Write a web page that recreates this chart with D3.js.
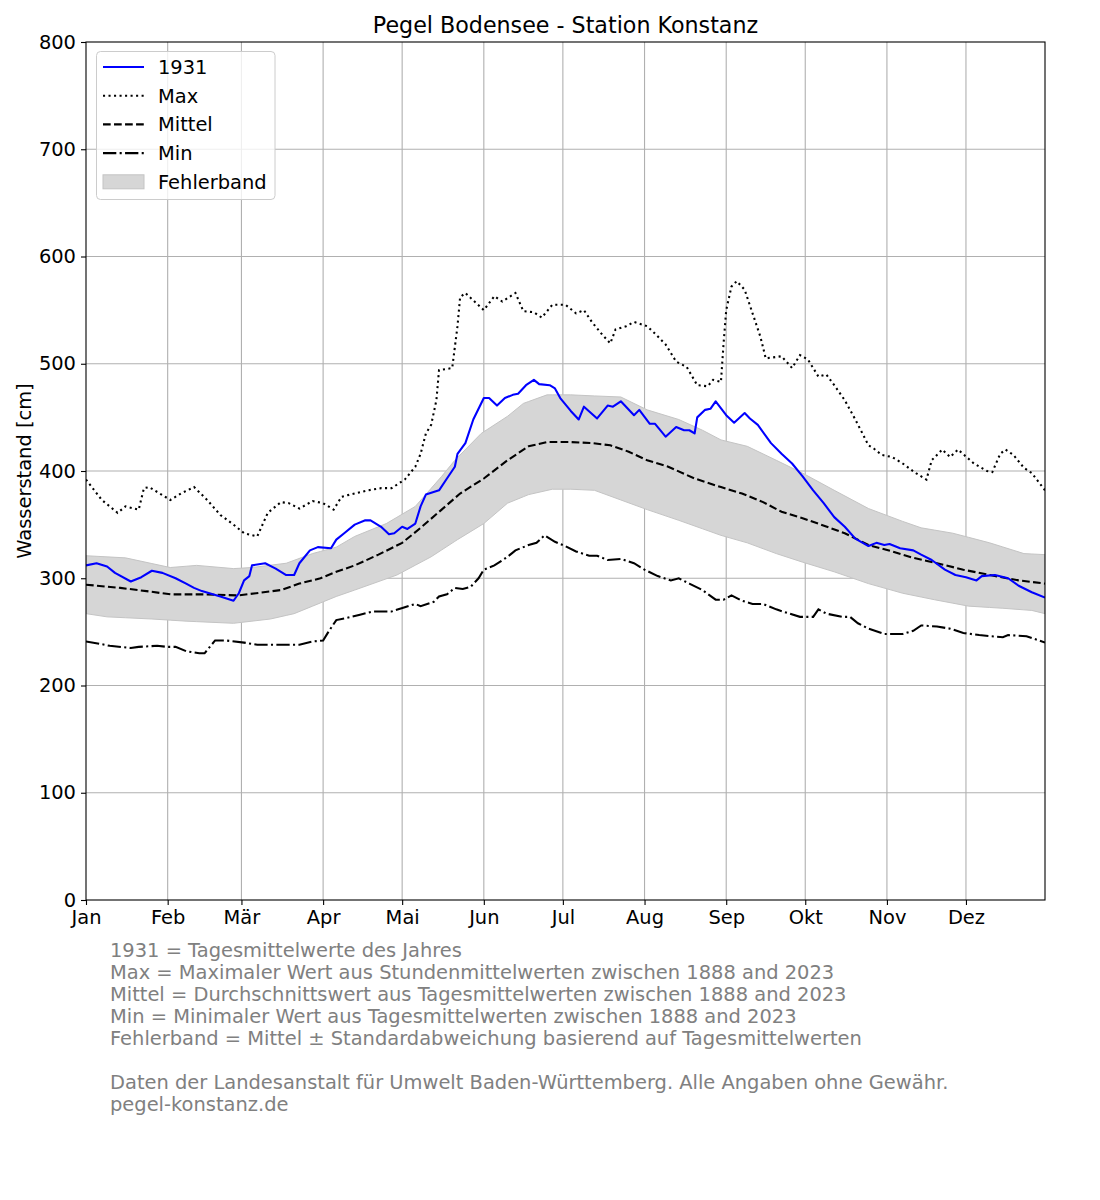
<!DOCTYPE html>
<html>
<head>
<meta charset="utf-8">
<script src="https://cdn.jsdelivr.net/npm/d3@7"></script>
<style>
  html, body { margin: 0; padding: 0; background: #fff; }
  svg { display: block; }
  text { font-family: "DejaVu Sans", sans-serif; }
</style>
</head>
<body>
<script>
// ---------- data (day of year, water level in cm) ----------
const monthNames = ["Jan","Feb","Mär","Apr","Mai","Jun","Jul","Aug","Sep","Okt","Nov","Dez"];
const monthStartDays = [0,31,59,90,120,151,181,212,243,273,304,334];
const yTicks = [0,100,200,300,400,500,600,700,800];

const series1931 = [[0,312],[4,314],[8,311],[11,305],[17,297],[21,301],[25,307],[29,305],[34,300],[38,295],[41,291],[44,288],[51,283],[56,279],[58,286],[60,298],[62,302],[63,312],[68,314],[72,309],[76,303],[79,303],[81,314],[85,326],[88,329],[93,328],[95,336],[98,342],[102,350],[106,354],[108,354],[112,348],[115,341],[117,342],[120,348],[122,346],[125,351],[127,367],[129,378],[134,382],[137,393],[140,404],[141,416],[144,426],[147,448],[151,468],[153,468],[156,461],[159,468],[162,471],[164,472],[167,480],[170,485],[172,481],[176,480],[178,477],[180,468],[184,456],[187,448],[189,460],[194,449],[198,461],[200,460],[203,465],[208,452],[210,457],[214,444],[216,444],[220,432],[224,441],[227,438],[229,438],[231,435],[232,450],[235,457],[237,458],[239,465],[243,452],[246,445],[250,454],[252,449],[255,443],[260,426],[264,416],[268,407],[272,395],[276,382],[280,370],[284,357],[288,348],[292,337],[297,330],[300,333],[303,331],[305,332],[309,328],[314,326],[317,322],[321,317],[326,308],[330,303],[334,301],[338,298],[340,302],[345,303],[350,300],[354,293],[359,287],[364,282]];

const seriesMax = [[0,392],[6,373],[12,361],[15,367],[20,364],[22,384],[24,385],[32,373],[36,379],[41,385],[46,373],[51,359],[56,350],[60,342],[65,339],[69,361],[74,371],[77,370],[81,365],[86,372],[90,370],[94,364],[97,376],[102,379],[107,382],[112,384],[116,384],[121,392],[125,404],[127,416],[129,435],[131,443],[133,466],[134,494],[139,496],[141,535],[142,562],[144,566],[151,550],[155,563],[158,558],[163,566],[166,549],[170,548],[173,543],[177,555],[182,555],[186,547],[189,550],[192,539],[196,527],[199,519],[201,532],[205,535],[208,539],[213,535],[216,528],[220,518],[224,502],[228,497],[232,480],[236,479],[238,485],[241,483],[242,519],[243,550],[245,572],[247,577],[250,569],[253,547],[256,525],[258,505],[264,507],[268,496],[271,508],[274,504],[278,488],[281,490],[284,480],[288,466],[292,448],[297,424],[299,421],[302,415],[306,413],[310,407],[315,398],[319,392],[321,410],[325,420],[328,413],[331,420],[337,407],[342,400],[344,399],[347,416],[349,420],[352,415],[356,403],[359,398],[364,382]];

const seriesMittel = [[0,294],[13,291],[23,288],[32,285],[44,285],[58,284],[74,289],[81,295],[89,300],[95,306],[102,312],[111,322],[120,333],[127,347],[135,364],[142,379],[151,393],[160,410],[168,423],[175,427],[184,427],[192,426],[199,424],[206,418],[213,410],[221,404],[231,393],[241,385],[249,379],[257,371],[264,362],[272,356],[279,350],[288,342],[297,331],[306,325],[314,319],[323,314],[333,308],[343,303],[354,298],[364,295]];

const seriesMin = [[0,241],[5,239],[9,237],[17,235],[20,236],[27,237],[31,236],[34,236],[38,232],[43,230],[45,230],[47,236],[49,242],[53,242],[60,240],[65,238],[74,238],[81,238],[86,241],[90,242],[92,250],[95,261],[99,263],[104,266],[109,269],[116,269],[121,273],[125,276],[127,274],[132,278],[134,283],[137,285],[140,291],[143,290],[146,292],[149,300],[151,308],[155,312],[160,320],[163,326],[168,331],[171,333],[174,340],[178,334],[181,331],[186,325],[191,321],[194,321],[198,317],[203,318],[208,314],[212,308],[217,302],[222,298],[225,300],[229,295],[234,289],[239,280],[242,280],[245,284],[249,279],[253,276],[257,276],[262,271],[267,267],[271,264],[276,264],[278,271],[281,267],[287,264],[290,264],[293,258],[297,253],[303,248],[310,248],[314,251],[317,256],[323,255],[328,253],[333,249],[339,247],[343,246],[348,245],[350,247],[357,246],[364,240]];

const bandUpper = [[0,321],[15,319],[32,310],[42,312],[56,309],[63,310],[76,314],[86,323],[95,329],[102,339],[114,351],[125,367],[135,395],[140,410],[150,435],[160,451],[166,463],[175,471],[184,471],[193,470],[203,469],[213,457],[225,448],[234,438],[241,429],[251,423],[262,410],[272,398],[284,382],[297,365],[310,353],[317,347],[329,342],[343,333],[356,323],[364,322]];

const bandLower = [[0,267],[8,264],[25,262],[38,260],[56,258],[70,262],[79,267],[89,277],[95,283],[102,289],[118,303],[131,320],[141,336],[151,351],[160,370],[168,378],[177,383],[184,383],[193,382],[203,373],[213,364],[225,354],[241,340],[251,333],[262,323],[272,315],[284,306],[297,295],[310,286],[322,280],[335,274],[348,272],[359,270],[364,267]];

const footnotes = [
  "1931 = Tagesmittelwerte des Jahres",
  "Max = Maximaler Wert aus Stundenmittelwerten zwischen 1888 and 2023",
  "Mittel = Durchschnittswert aus Tagesmittelwerten zwischen 1888 and 2023",
  "Min = Minimaler Wert aus Tagesmittelwerten zwischen 1888 and 2023",
  "Fehlerband = Mittel ± Standardabweichung basierend auf Tagesmittelwerten",
  "",
  "Daten der Landesanstalt für Umwelt Baden-Württemberg. Alle Angaben ohne Gewähr.",
  "pegel-konstanz.de"
];

// ---------- layout ----------
const W = 1100, H = 1200;
const L = 86, R = 1045, T = 42, B = 900;
const FS = 19.44, TITLE_FS = 22.2;
const lw = 2.08;
const dotted = [lw * 1, lw * 1.65].join(",");
const dashed = [lw * 3.7, lw * 1.6].join(",");
const dashdot = [lw * 6.4, lw * 1.6, lw * 1, lw * 1.6].join(",");

const svg = d3.select("body").append("svg").attr("width", W).attr("height", H);
svg.append("rect").attr("width", W).attr("height", H).attr("fill", "#fff");

const x = d3.scaleLinear().domain([0, 364]).range([L, R]);
const y = d3.scaleLinear().domain([0, 800]).range([B, T]);

// grid
const grid = svg.append("g");
grid.selectAll(".gx").data(monthStartDays.slice(1)).join("line")
  .attr("x1", d => x(d)).attr("x2", d => x(d)).attr("y1", T).attr("y2", B)
  .attr("stroke", "#b0b0b0").attr("stroke-width", 1.1);
grid.selectAll(".gy").data(yTicks.slice(1, -1)).join("line")
  .attr("x1", L).attr("x2", R).attr("y1", d => y(d)).attr("y2", d => y(d))
  .attr("stroke", "#b0b0b0").attr("stroke-width", 1.1);

svg.append("clipPath").attr("id", "clip").append("rect")
  .attr("x", L).attr("y", T).attr("width", R - L).attr("height", B - T);
const plot = svg.append("g").attr("clip-path", "url(#clip)");

// band
const lowerFn = d3.scaleLinear().domain(bandLower.map(d => d[0])).range(bandLower.map(d => d[1]));
const upperFn = d3.scaleLinear().domain(bandUpper.map(d => d[0])).range(bandUpper.map(d => d[1]));
const bandDays = Array.from(new Set(bandUpper.map(d => d[0]).concat(bandLower.map(d => d[0])))).sort((a, b) => a - b);
const area = d3.area().x(d => x(d)).y0(d => y(lowerFn(d))).y1(d => y(upperFn(d)));
plot.append("path").datum(bandDays).attr("d", area)
  .attr("fill", "#d6d6d6").attr("stroke", "#c4c4c4").attr("stroke-width", 1);

const line = d3.line().x(d => x(d[0])).y(d => y(d[1]));
plot.append("path").datum(seriesMin).attr("d", line).attr("fill", "none")
  .attr("stroke", "#000").attr("stroke-width", lw).attr("stroke-dasharray", dashdot);
plot.append("path").datum(seriesMittel).attr("d", line).attr("fill", "none")
  .attr("stroke", "#000").attr("stroke-width", lw).attr("stroke-dasharray", dashed);
plot.append("path").datum(seriesMax).attr("d", line).attr("fill", "none")
  .attr("stroke", "#000").attr("stroke-width", lw).attr("stroke-dasharray", dotted);
plot.append("path").datum(series1931).attr("d", line).attr("fill", "none")
  .attr("stroke", "#0000ff").attr("stroke-width", lw).attr("stroke-linejoin", "round");

// axes
const xAxis = d3.axisBottom(x).tickValues(monthStartDays).tickFormat((d, i) => monthNames[i]).tickSizeOuter(0).tickSize(5).tickPadding(5);
const gx = svg.append("g").attr("transform", `translate(0,${B})`).call(xAxis);
const yAxis = d3.axisLeft(y).tickValues(yTicks).tickSizeOuter(0).tickSize(5).tickPadding(5);
const gy = svg.append("g").attr("transform", `translate(${L},0)`).call(yAxis);
[gx, gy].forEach(g => {
  g.select(".domain").remove();
  g.selectAll("line").attr("stroke", "#000").attr("stroke-width", 1.1);
  g.selectAll("text").attr("font-family", "DejaVu Sans").attr("font-size", FS).attr("fill", "#000");
});
svg.append("rect").attr("x", L).attr("y", T).attr("width", R - L).attr("height", B - T)
  .attr("fill", "none").attr("stroke", "#000").attr("stroke-width", 1.1);

// title & axis label
svg.append("text").attr("x", (L + R) / 2).attr("y", 33).attr("text-anchor", "middle")
  .attr("font-size", TITLE_FS).text("Pegel Bodensee - Station Konstanz");
svg.append("text").attr("transform", `translate(31,${(T + B) / 2}) rotate(-90)`)
  .attr("text-anchor", "middle").attr("font-size", FS).text("Wasserstand [cm]");

// legend
const lg = svg.append("g");
lg.append("rect").attr("x", 96.5).attr("y", 51.5).attr("width", 178.5).attr("height", 148)
  .attr("rx", 4).attr("fill", "#fff").attr("fill-opacity", 0.8).attr("stroke", "#cccccc").attr("stroke-width", 1);
const legendItems = [
  { label: "1931", color: "#0000ff", dash: null },
  { label: "Max", color: "#000", dash: dotted },
  { label: "Mittel", color: "#000", dash: dashed },
  { label: "Min", color: "#000", dash: dashdot },
  { label: "Fehlerband", band: true }
];
legendItems.forEach((it, i) => {
  const cy = 67 + i * 28.7;
  if (it.band) {
    lg.append("rect").attr("x", 103).attr("y", cy - 7).attr("width", 41).attr("height", 14)
      .attr("fill", "#d6d6d6").attr("stroke", "#c4c4c4").attr("stroke-width", 1);
  } else {
    const l = lg.append("line").attr("x1", 103).attr("x2", 144).attr("y1", cy).attr("y2", cy)
      .attr("stroke", it.color).attr("stroke-width", lw);
    if (it.dash) l.attr("stroke-dasharray", it.dash);
  }
  lg.append("text").attr("x", 158).attr("y", cy + 7).attr("font-size", FS).text(it.label);
});

// footnotes
svg.append("g").selectAll("text").data(footnotes).join("text")
  .attr("x", 110).attr("y", (d, i) => 957 + i * 22)
  .attr("font-size", FS).attr("fill", "#808080").text(d => d);
</script>
</body>
</html>
